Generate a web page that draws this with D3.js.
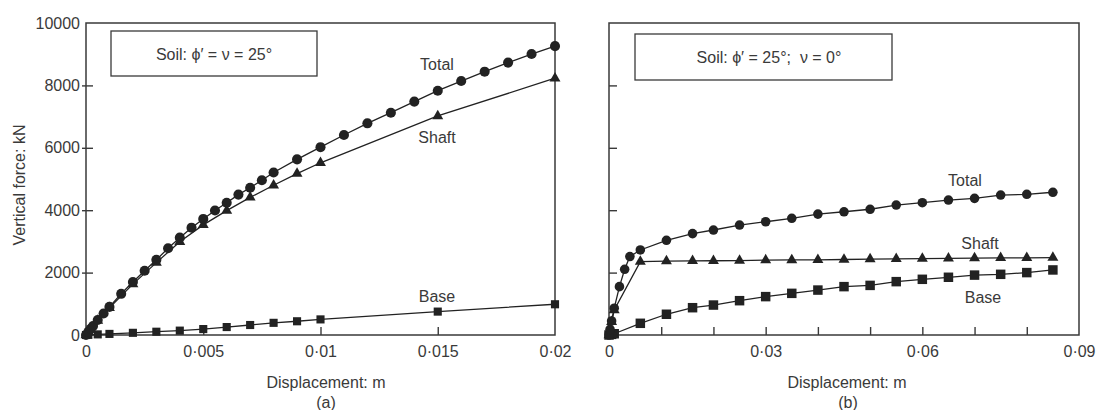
<!DOCTYPE html>
<html>
<head>
<meta charset="utf-8">
<script src="https://cdn.jsdelivr.net/npm/d3@7"></script>
<style>
  html, body { margin: 0; padding: 0; background: #fff; }
  svg { display: block; font-family: "Liberation Sans", Arial, sans-serif; }
  text { fill: #3a3a3a; }
</style>
</head>
<body>
<svg id="chart" width="1108" height="410"></svg>
<script>
// ---- Panel (a): soil phi' = nu = 25 deg ----
const aTotalDisp  = [0, 0.0001, 0.0002, 0.0003, 0.0005, 0.00075, 0.001, 0.0015, 0.002, 0.0025, 0.003, 0.0035, 0.004, 0.0045, 0.005, 0.0055, 0.006, 0.0065, 0.007, 0.0075, 0.008, 0.009, 0.01, 0.011, 0.012, 0.013, 0.014, 0.015, 0.016, 0.017, 0.018, 0.019, 0.02];
const aTotalForce = [0, 100, 200, 290, 480, 690, 900, 1320, 1700, 2060, 2410, 2780, 3120, 3440, 3720, 3990, 4240, 4500, 4720, 4960, 5210, 5630, 6020, 6410, 6785, 7125, 7480, 7830, 8140, 8440, 8730, 9005, 9260];
const aShaftDisp  = [0, 0.0001, 0.0002, 0.0005, 0.001, 0.002, 0.003, 0.004, 0.005, 0.006, 0.007, 0.008, 0.009, 0.01, 0.015, 0.02];
const aShaftForce = [0, 95, 190, 460, 870, 1630, 2320, 2990, 3530, 3985, 4410, 4800, 5170, 5520, 7020, 8230];
const aBaseDisp   = [0, 0.0001, 0.0005, 0.001, 0.002, 0.003, 0.004, 0.005, 0.006, 0.007, 0.008, 0.009, 0.01, 0.015, 0.02];
const aBaseForce  = [0, 5, 20, 35, 70, 105, 140, 190, 255, 320, 390, 440, 500, 750, 985];

// ---- Panel (b): soil phi' = 25 deg, nu = 0 deg ----
const bTotalDisp  = [0, 0.0002, 0.0005, 0.001, 0.002, 0.003, 0.004, 0.006, 0.011, 0.016, 0.02, 0.025, 0.03, 0.035, 0.04, 0.045, 0.05, 0.055, 0.06, 0.065, 0.07, 0.075, 0.08, 0.085];
const bTotalForce = [0, 180, 450, 860, 1550, 2105, 2515, 2725, 3035, 3250, 3365, 3525, 3630, 3740, 3875, 3950, 4030, 4165, 4240, 4325, 4380, 4485, 4510, 4575];
const bShaftDisp  = [0, 0.0002, 0.0005, 0.001, 0.006, 0.011, 0.016, 0.02, 0.025, 0.03, 0.035, 0.04, 0.045, 0.05, 0.055, 0.06, 0.065, 0.07, 0.075, 0.08, 0.085];
const bShaftForce = [0, 170, 420, 800, 2350, 2370, 2375, 2380, 2385, 2400, 2405, 2410, 2420, 2435, 2440, 2450, 2455, 2465, 2470, 2475, 2480];
const bBaseDisp   = [0, 0.0005, 0.001, 0.006, 0.011, 0.016, 0.02, 0.025, 0.03, 0.035, 0.04, 0.045, 0.05, 0.055, 0.06, 0.065, 0.07, 0.075, 0.08, 0.085];
const bBaseForce  = [0, 20, 40, 375, 665, 875, 960, 1100, 1230, 1335, 1440, 1550, 1590, 1710, 1785, 1850, 1920, 1945, 2000, 2085];

// ---- Axis ticks and labels ----
const forceTicks      = [0, 2000, 4000, 6000, 8000, 10000];
const forceTickLabels = ["0", "2000", "4000", "6000", "8000", "10000"];
const aDispTicks      = [0, 0.005, 0.01, 0.015, 0.02];
const aDispTickLabels = ["0", "0·005", "0·01", "0·015", "0·02"];
const bDispMinor      = [0.01, 0.02, 0.03, 0.04, 0.05, 0.06, 0.07, 0.08];
const bDispTicks      = [0, 0.03, 0.06, 0.09];
const bDispTickLabels = ["0", "0·03", "0·06", "0·09"];

const seriesNames = ["Total", "Shaft", "Base"];

const svg = d3.select("#chart");
const ink = "#222";
const axisInk = "#3a3a3a";
const fontSize = 16;

const yScale = d3.scaleLinear().domain([0, 10000]).range([335, 23]);
const xA = d3.scaleLinear().domain([0, 0.02]).range([86, 555]);
const xB = d3.scaleLinear().domain([0, 0.09]).range([609, 1079]);

const zip = (xs, ys) => xs.map((x, i) => ({ x, y: ys[i] }));

function drawSeries(g, x, pts, symbolType, size) {
  const line = d3.line().x(d => x(d.x)).y(d => yScale(d.y));
  g.append("path")
    .datum(pts)
    .attr("d", line)
    .attr("fill", "none")
    .attr("stroke", ink)
    .attr("stroke-width", 1.3);
  g.selectAll(null)
    .data(pts)
    .join("path")
    .attr("transform", d => `translate(${x(d.x)},${yScale(d.y)})`)
    .attr("d", d3.symbol().type(symbolType).size(size))
    .attr("fill", ink);
}

function drawFrame(g, x) {
  const [x0, x1] = x.range();
  const [y0, y1] = yScale.range();
  g.append("path")
    .attr("d", `M${x0},${y1}H${x1}V${y0}H${x0}Z`)
    .attr("fill", "none")
    .attr("stroke", axisInk)
    .attr("stroke-width", 1.5);
}

function styleAxis(sel) {
  sel.select(".domain").remove();
  sel.selectAll(".tick line").attr("stroke", axisInk).attr("stroke-width", 1.4);
  sel.selectAll(".tick text")
    .attr("fill", axisInk)
    .style("font-size", fontSize + "px")
    .style("font-family", '"Liberation Sans", Arial, sans-serif');
}

// ===== Panel (a) =====
const gA = svg.append("g");

// bottom axis: inward ticks, labels below
const axA = gA.append("g")
  .attr("transform", `translate(0,${yScale(0)})`)
  .call(d3.axisBottom(xA)
    .tickValues(aDispTicks)
    .tickFormat((d, i) => aDispTickLabels[i])
    .tickSizeInner(-8).tickSizeOuter(0).tickPadding(11));
styleAxis(axA);
axA.selectAll(".tick line").filter(d => d === 0 || d === 0.02).remove();

// left axis: ticks crossing the axis line, labels to the left
const ayA = gA.append("g")
  .attr("transform", `translate(${xA(0)},0)`)
  .call(d3.axisLeft(yScale)
    .tickValues(forceTicks)
    .tickFormat((d, i) => forceTickLabels[i])
    .tickSizeInner(4).tickSizeOuter(0).tickPadding(2));
styleAxis(ayA);
ayA.selectAll(".tick line").attr("x2", -4).attr("x1", 7);
ayA.selectAll(".tick line").filter(d => d === 0 || d === 10000).remove();

drawFrame(gA, xA);

drawSeries(gA, xA, zip(aBaseDisp, aBaseForce), d3.symbolSquare, 66);
drawSeries(gA, xA, zip(aShaftDisp, aShaftForce), d3.symbolTriangle, 52);
drawSeries(gA, xA, zip(aTotalDisp, aTotalForce), d3.symbolCircle, 80);

// legend box (a)
gA.append("rect")
  .attr("x", 111).attr("y", 31).attr("width", 206).attr("height", 45)
  .attr("fill", "#fff").attr("stroke", axisInk).attr("stroke-width", 1.3);
gA.append("text")
  .attr("x", 214).attr("y", 54)
  .attr("text-anchor", "middle").attr("dominant-baseline", "central")
  .style("font-size", fontSize + "px")
  .text("Soil: ϕ′ = ν = 25°");

// series labels (a)
const aLabelPos = [[437, 64], [437, 137], [437, 296]];
gA.selectAll(null).data(seriesNames).join("text")
  .attr("x", (d, i) => aLabelPos[i][0]).attr("y", (d, i) => aLabelPos[i][1])
  .attr("text-anchor", "middle").attr("dominant-baseline", "central")
  .style("font-size", fontSize + "px")
  .text(d => d);

gA.append("text")
  .attr("x", 326).attr("y", 382)
  .attr("text-anchor", "middle").attr("dominant-baseline", "central")
  .style("font-size", fontSize + "px")
  .text("Displacement: m");
gA.append("text")
  .attr("x", 326).attr("y", 402)
  .attr("text-anchor", "middle").attr("dominant-baseline", "central")
  .style("font-size", fontSize + "px")
  .text("(a)");

// ===== Panel (b) =====
const gB = svg.append("g");

// minor inward ticks along the displacement axis
const mxB = gB.append("g")
  .attr("transform", `translate(0,${yScale(0)})`)
  .call(d3.axisBottom(xB)
    .tickValues(bDispMinor)
    .tickFormat("")
    .tickSizeInner(-8).tickSizeOuter(0));
styleAxis(mxB);

// labelled positions
const axB = gB.append("g")
  .attr("transform", `translate(0,${yScale(0)})`)
  .call(d3.axisBottom(xB)
    .tickValues(bDispTicks)
    .tickFormat((d, i) => bDispTickLabels[i])
    .tickSizeInner(0).tickSizeOuter(0).tickPadding(11));
styleAxis(axB);

// left axis: inward ticks, no labels
const ayB = gB.append("g")
  .attr("transform", `translate(${xB(0)},0)`)
  .call(d3.axisLeft(yScale)
    .tickValues(forceTicks.filter(v => v > 0 && v < 10000))
    .tickFormat("")
    .tickSizeInner(-8).tickSizeOuter(0));
styleAxis(ayB);

drawFrame(gB, xB);

drawSeries(gB, xB, zip(bBaseDisp, bBaseForce), d3.symbolSquare, 90);
drawSeries(gB, xB, zip(bShaftDisp, bShaftForce), d3.symbolTriangle, 52);
drawSeries(gB, xB, zip(bTotalDisp, bTotalForce), d3.symbolCircle, 72);

// legend box (b)
gB.append("rect")
  .attr("x", 635).attr("y", 34).attr("width", 257).attr("height", 46)
  .attr("fill", "#fff").attr("stroke", axisInk).attr("stroke-width", 1.3);
gB.append("text")
  .attr("x", 769).attr("y", 57)
  .attr("text-anchor", "middle").attr("dominant-baseline", "central")
  .attr("xml:space", "preserve")
  .style("white-space", "pre")
  .style("font-size", fontSize + "px")
  .text("Soil: ϕ′ = 25°;  ν = 0°");

const bLabelPos = [[965, 180], [980, 243], [983, 297]];
gB.selectAll(null).data(seriesNames).join("text")
  .attr("x", (d, i) => bLabelPos[i][0]).attr("y", (d, i) => bLabelPos[i][1])
  .attr("text-anchor", "middle").attr("dominant-baseline", "central")
  .style("font-size", fontSize + "px")
  .text(d => d);

gB.append("text")
  .attr("x", 847).attr("y", 382)
  .attr("text-anchor", "middle").attr("dominant-baseline", "central")
  .style("font-size", fontSize + "px")
  .text("Displacement: m");
gB.append("text")
  .attr("x", 848).attr("y", 402)
  .attr("text-anchor", "middle").attr("dominant-baseline", "central")
  .style("font-size", fontSize + "px")
  .text("(b)");

// shared vertical axis title
svg.append("text")
  .attr("transform", "translate(19,185) rotate(-90)")
  .attr("text-anchor", "middle").attr("dominant-baseline", "central")
  .style("font-size", fontSize + "px")
  .text("Vertical force: kN");
</script>
</body>
</html>
